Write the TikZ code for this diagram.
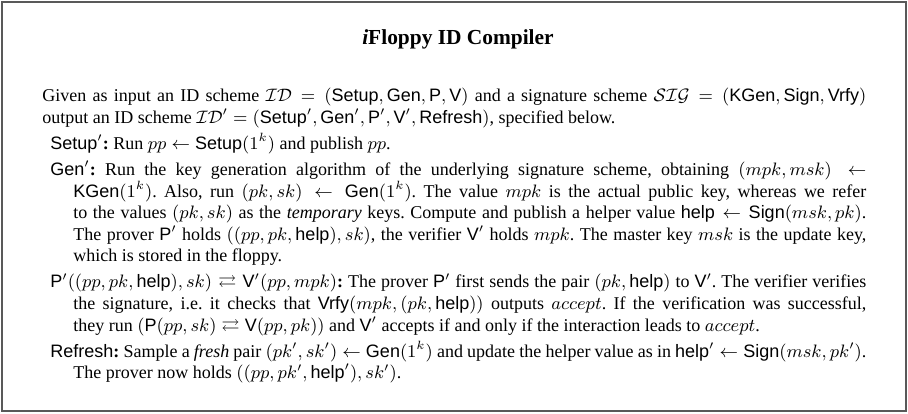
\documentclass[tikz,border=0pt]{standalone}
\usepackage{amssymb}
\usepackage[no-math]{fontspec}
\setmainfont{Liberation Serif}
\setsansfont{Liberation Sans}
\newcommand{\algo}[1]{\textsf{#1}}
\newcommand{\compitem}[1]{\par\hangindent=15.5pt\hangafter=1\noindent\hspace*{4pt}#1\textbf{:}~}
\begin{document}
\begin{tikzpicture}[x=0.5pt,y=-0.5pt,
    frame/.style={draw=black!65,line width=0.9pt},
    body/.style={anchor=north west,inner sep=0pt,text width=412pt,align=justify,font=\fontsize{9}{10.8}\selectfont}]
                \useasboundingbox (0,0) rectangle (908,413);
                \draw[frame] (2,2) rectangle (906,411);

                \node[anchor=base,inner sep=0pt,font=\fontsize{10.7}{13}\selectfont\bfseries] (title) at (458,44) {\textit{i}Floppy ID Compiler};

                \node[body] (text) at (42,88) {%
                  \setlength{\parskip}{2.2pt}\emergencystretch=2em\frenchspacing%
                  Given as input an ID scheme $\mathcal{ID} = (\algo{Setup}, \algo{Gen}, \algo{P}, \algo{V})$ and a signature scheme $\mathcal{SIG} = (\algo{KGen}, \algo{Sign}, \algo{Vrfy})$\linebreak output an ID scheme $\mathcal{ID}' = (\algo{Setup}', \algo{Gen}', \algo{P}', \algo{V}', \algo{Refresh})$, specified below.
                  \compitem{$\algo{Setup}'$}Run $pp \leftarrow \algo{Setup}(1^k)$ and publish $pp$.
                  \compitem{$\algo{Gen}'$}Run the key generation algorithm of the underlying signature scheme, obtaining $(mpk, msk) \leftarrow$\linebreak $\algo{KGen}(1^k)$. Also, run $(pk, sk) \leftarrow \algo{Gen}(1^k)$. The value $mpk$ is the actual public key, whereas we refer\linebreak to the values $(pk, sk)$ as the \emph{temporary} keys. Compute and publish a helper value $\algo{help} \leftarrow \algo{Sign}(msk, pk)$.\linebreak The prover $\algo{P}'$ holds $((pp, pk, \algo{help}), sk)$, the verifier $\algo{V}'$ holds $mpk$. The master key $msk$ is the update key,\linebreak which is stored in the floppy.
                  \compitem{$\algo{P}'((pp, pk, \algo{help}), sk) \rightleftarrows \algo{V}'(pp, mpk)$}The prover $\algo{P}'$ first sends the pair $(pk, \algo{help})$ to $\algo{V}'$. The verifier verifies\linebreak the signature, i.e.\ it checks that $\algo{Vrfy}(mpk, (pk, \algo{help}))$ outputs $accept$. If the verification was successful,\linebreak they run $(\algo{P}(pp, sk) \rightleftarrows \algo{V}(pp, pk))$ and $\algo{V}'$ accepts if and only if the interaction leads to $accept$.
                  \compitem{\algo{Refresh}}Sample a \emph{fresh} pair $(pk', sk') \leftarrow \algo{Gen}(1^k)$ and update the helper value as in $\algo{help}' \leftarrow \algo{Sign}(msk, pk')$.\linebreak The prover now holds $((pp, pk', \algo{help}'), sk')$.\par};
            \end{tikzpicture}
\end{document}
